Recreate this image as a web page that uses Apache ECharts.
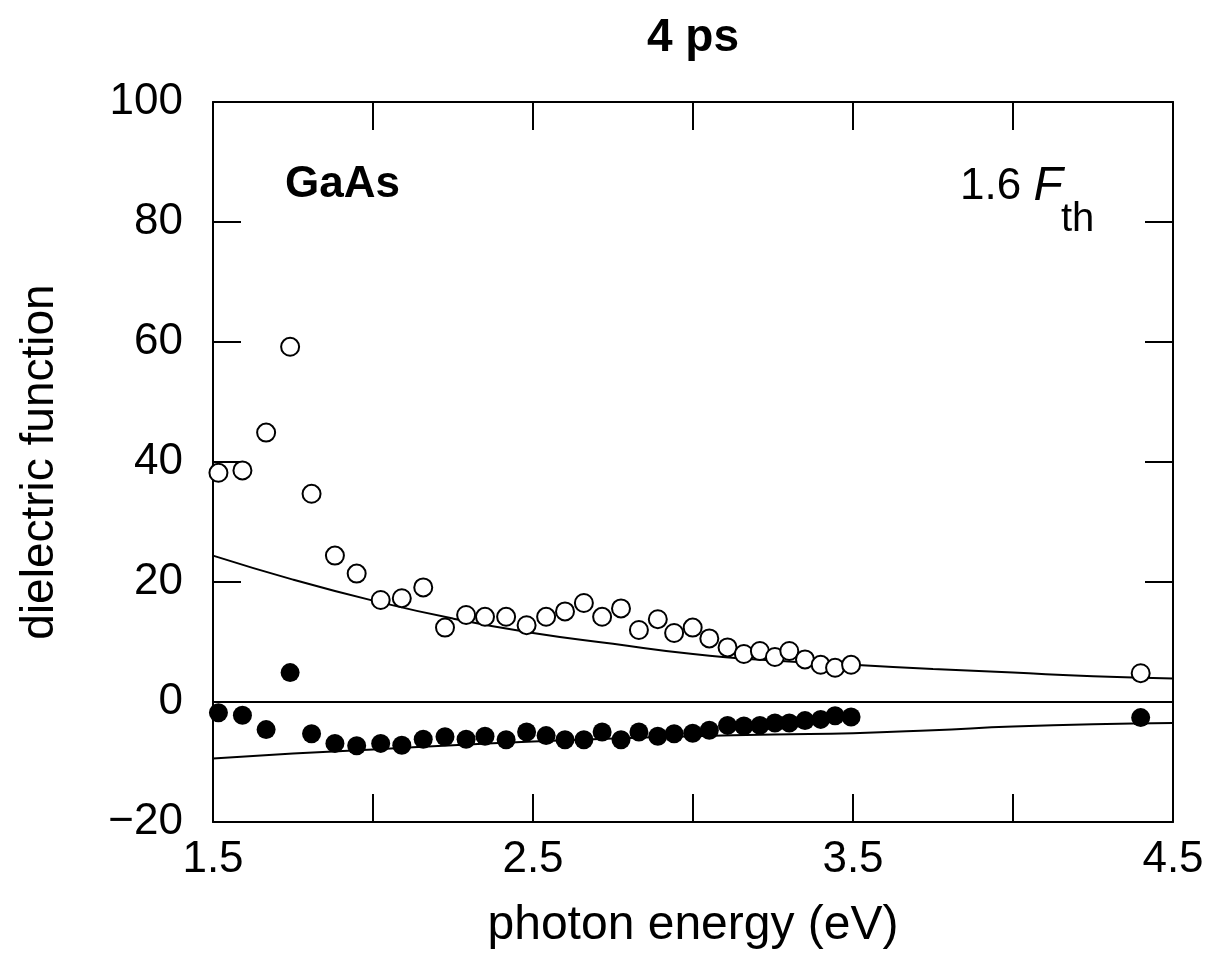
<!DOCTYPE html>
<html>
<head>
<meta charset="utf-8">
<script src="https://cdn.jsdelivr.net/npm/echarts@6/dist/echarts.min.js"></script>
<style>
  html, body { margin: 0; padding: 0; background: #fff; }
  #chart { width: 1210px; height: 958px; }
</style>
</head>
<body>
<div id="chart"></div>
<script>
// photon energy (eV) of the measured points
const energy = [1.517, 1.592, 1.666, 1.741, 1.808, 1.881, 1.949, 2.024, 2.090, 2.157,
  2.225, 2.291, 2.350, 2.416, 2.480, 2.541, 2.600, 2.659, 2.716, 2.775,
  2.831, 2.890, 2.941, 2.999, 3.051, 3.108, 3.159, 3.209, 3.256, 3.301,
  3.350, 3.399, 3.444, 3.494, 4.399];
// open circles
const openVals = [38.2, 38.6, 44.9, 59.2, 34.7, 24.4, 21.4, 17.0, 17.3, 19.1,
  12.4, 14.5, 14.2, 14.2, 12.8, 14.2, 15.1, 16.5, 14.2, 15.6,
  12.0, 13.8, 11.5, 12.4, 10.6, 9.1, 8.0, 8.5, 7.5, 8.5,
  7.1, 6.2, 5.7, 6.2, 4.8];
// filled circles
const filledVals = [-1.8, -2.2, -4.6, 4.9, -5.3, -6.9, -7.3, -6.9, -7.2, -6.2,
  -5.8, -6.2, -5.7, -6.3, -5.0, -5.6, -6.3, -6.3, -5.0, -6.3,
  -5.0, -5.7, -5.3, -5.2, -4.7, -3.9, -4.0, -3.9, -3.5, -3.5,
  -3.1, -2.9, -2.3, -2.5, -2.6];
// model curves
const curveX = [1.5, 1.75, 2.0, 2.25, 2.5, 2.75, 3.0, 3.25, 3.5, 3.75, 4.0, 4.25, 4.5];
const upperCurve = [24.4, 20.4, 16.9, 13.9, 11.5, 9.7, 8.0, 6.9, 6.2, 5.5, 4.9, 4.3, 3.9];
const lowerCurve = [-9.4, -8.6, -7.9, -7.2, -6.6, -6.1, -5.7, -5.4, -5.2, -4.7, -4.1, -3.7, -3.5];
const refLevel = 0;
const xLabels = ['1.5', '2.5', '3.5', '4.5'];

const FONT = "'Liberation Sans', Arial, Helvetica, sans-serif";
const zip = (xs, ys) => xs.map((x, i) => [x, ys[i]]);

const chart = echarts.init(document.getElementById('chart'));

const axisLine = { show: true, onZero: false, lineStyle: { color: '#000', width: 2 } };
const tick = { show: true, inside: true, length: 28, lineStyle: { color: '#000', width: 2 } };

let option = {
  animation: false,
  backgroundColor: '#fff',
  title: {
    text: '4 ps',
    left: 688,
    top: 10,
    textAlign: 'center',
    textStyle: { fontFamily: FONT, fontSize: 46, fontWeight: 'bold', color: '#000' }
  },
  grid: { left: 213, right: 37, top: 102, bottom: 136 },
  xAxis: [
    {
      type: 'value', min: 1.5, max: 4.5, interval: 0.5,
      name: 'photon energy (eV)', nameLocation: 'middle', nameGap: 80,
      nameTextStyle: { fontFamily: FONT, fontSize: 48, color: '#000' },
      axisLine: axisLine, axisTick: tick, splitLine: { show: false },
      axisLabel: {
        margin: 16, fontFamily: FONT, fontSize: 44, color: '#000',
        formatter: v => {
          const s = v.toFixed(1);
          return xLabels.indexOf(s) >= 0 ? s : '';
        }
      }
    },
    {
      type: 'value', position: 'top', min: 1.5, max: 4.5, interval: 0.5,
      axisLine: axisLine, axisTick: tick, axisLabel: { show: false }, splitLine: { show: false }
    }
  ],
  yAxis: [
    {
      type: 'value', min: -20, max: 100, interval: 20,
      name: 'dielectric function', nameLocation: 'middle', nameGap: 150,
      nameTextStyle: { fontFamily: FONT, fontSize: 46, color: '#000' },
      axisLine: axisLine, axisTick: tick, splitLine: { show: false },
      axisLabel: {
        margin: 30, fontFamily: FONT, fontSize: 44, color: '#000',
        formatter: v => String(v).replace('-', '\u2212')
      }
    },
    {
      type: 'value', position: 'right', min: -20, max: 100, interval: 20,
      axisLine: axisLine, axisTick: tick, axisLabel: { show: false }, splitLine: { show: false }
    }
  ],
  graphic: [
    {
      type: 'text', left: 285, top: 163,
      style: { text: 'GaAs', fontFamily: FONT, fontSize: 44, fontWeight: 'bold', fill: '#000' }
    },
    {
      type: 'text', left: 960, top: 163,
      style: {
        text: '{n|1.6 }{f|F}',
        rich: {
          n: { fontFamily: FONT, fontSize: 44, fill: '#000' },
          f: { fontFamily: FONT, fontSize: 48, fontStyle: 'italic', fill: '#000' }
        }
      }
    },
    {
      type: 'text', left: 1061, top: 200,
      style: { text: 'th', fontFamily: FONT, fontSize: 40, fill: '#000' }
    }
  ],
  series: [
    {
      type: 'line', data: zip(curveX, upperCurve), smooth: true, showSymbol: false,
      lineStyle: { color: '#000', width: 2 }, z: 2,
      markLine: {
        silent: true, symbol: 'none', label: { show: false },
        lineStyle: { color: '#000', width: 2, type: 'solid' },
        data: [{ yAxis: refLevel }]
      }
    },
    {
      type: 'line', data: zip(curveX, lowerCurve), smooth: true, showSymbol: false,
      lineStyle: { color: '#000', width: 2 }, z: 2
    },
    {
      type: 'scatter', data: zip(energy, openVals), symbol: 'circle', symbolSize: 18,
      itemStyle: { color: '#fff', borderColor: '#000', borderWidth: 2, opacity: 1 }, z: 3
    },
    {
      type: 'scatter', data: zip(energy, filledVals), symbol: 'circle', symbolSize: 19,
      itemStyle: { color: '#000', opacity: 1 }, z: 3
    }
  ]
};

chart.setOption(option);
</script>
</body>
</html>
